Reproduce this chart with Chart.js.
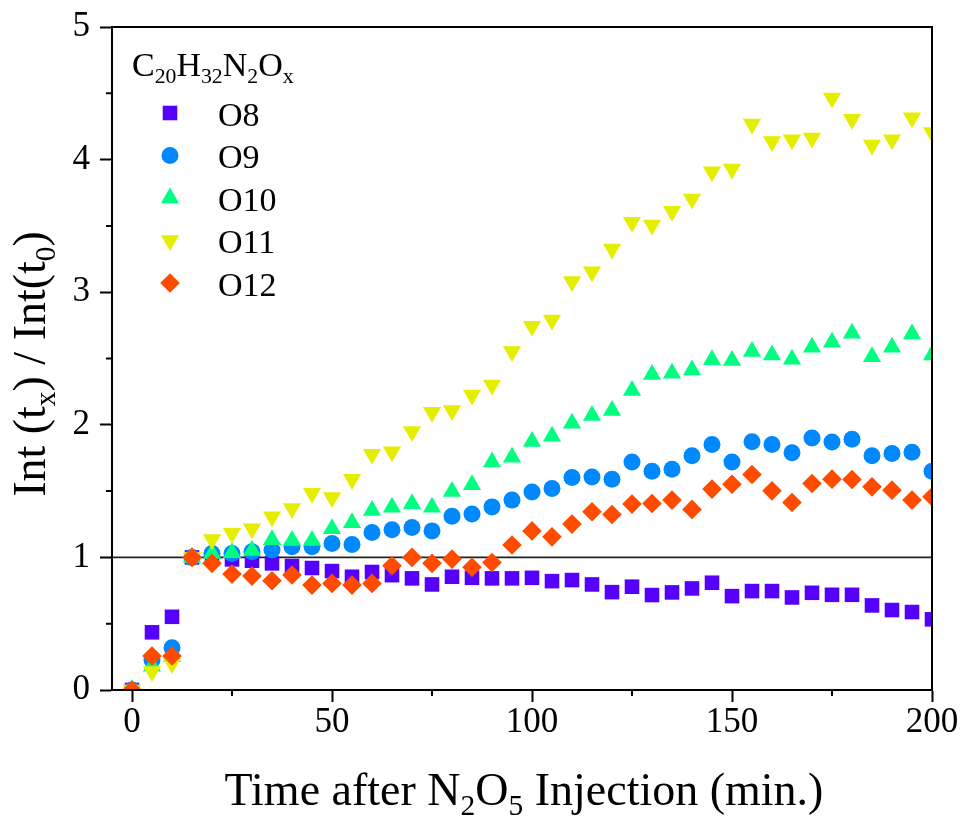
<!DOCTYPE html>
<html>
<head>
<meta charset="utf-8">
<script src="https://cdn.jsdelivr.net/npm/chart.js@4.4.1/dist/chart.umd.min.js"></script>
<style>
  html, body { margin: 0; padding: 0; background: #fff; }
  canvas { display: block; }
</style>
</head>
<body>
<canvas id="chart" width="964" height="825"></canvas>
<script>
// time after injection (min)
const times = [0, 5, 10, 15, 20, 25, 30, 35, 40, 45, 50, 55, 60, 65, 70, 75, 80, 85, 90, 95, 100,
  105, 110, 115, 120, 125, 130, 135, 140, 145, 150, 155, 160, 165, 170, 175, 180, 185, 190, 195, 200];

// Int(tx)/Int(t0) for C20H32N2Ox
const o8 = [0, 0.435, 0.552, 1.0, 0.99, 0.985, 0.975, 0.955, 0.935, 0.92, 0.897, 0.854, 0.89, 0.866,
  0.842, 0.796, 0.854, 0.846, 0.842, 0.842, 0.846, 0.821, 0.829, 0.796, 0.738, 0.779, 0.716, 0.736,
  0.766, 0.809, 0.708, 0.746, 0.746, 0.698, 0.733, 0.718, 0.718, 0.638, 0.603, 0.588, 0.533];
const o9 = [0, 0.226, 0.319, 1.0, 1.03, 1.03, 1.042, 1.055, 1.08, 1.08, 1.105, 1.098, 1.188, 1.208,
  1.226, 1.2, 1.311, 1.328, 1.381, 1.432, 1.494, 1.52, 1.603, 1.607, 1.59, 1.72, 1.65, 1.665,
  1.767, 1.852, 1.72, 1.873, 1.851, 1.79, 1.9, 1.87, 1.891, 1.767, 1.784, 1.793, 1.65];
const o10 = [0, 0.18, 0.25, 1.0, 1.03, 1.035, 1.052, 1.133, 1.128, 1.128, 1.216, 1.261, 1.354, 1.379,
  1.404, 1.379, 1.497, 1.547, 1.719, 1.756, 1.874, 1.914, 2.012, 2.07, 2.107, 2.258, 2.379, 2.389,
  2.414, 2.49, 2.484, 2.552, 2.527, 2.494, 2.585, 2.623, 2.69, 2.514, 2.585, 2.685, 2.527];
const o11 = [0, 0.14, 0.2, 1.0, 1.135, 1.183, 1.216, 1.306, 1.369, 1.484, 1.452, 1.59, 1.778, 1.796,
  1.949, 2.095, 2.107, 2.225, 2.301, 2.552, 2.743, 2.791, 3.08, 3.155, 3.326, 3.527, 3.507, 3.61,
  3.703, 3.909, 3.929, 4.268, 4.137, 4.15, 4.162, 4.464, 4.305, 4.11, 4.15, 4.315, 4.205];
const o12 = [0, 0.256, 0.256, 1.0, 0.955, 0.874, 0.859, 0.824, 0.867, 0.791, 0.804, 0.791, 0.804, 0.937,
  1.0, 0.955, 0.987, 0.925, 0.962, 1.093, 1.2, 1.155, 1.251, 1.344, 1.324, 1.402, 1.407, 1.432,
  1.362, 1.515, 1.552, 1.625, 1.502, 1.414, 1.557, 1.59, 1.588, 1.532, 1.507, 1.432, 1.457];

const seriesNames = ['O8', 'O9', 'O10', 'O11', 'O12'];
const xTicks = [0, 50, 100, 150, 200];
const xMinorTicks = [25, 75, 125, 175];
const yTicks = [0, 1, 2, 3, 4, 5];
const yMinorTicks = [0.5, 1.5, 2.5, 3.5, 4.5];
const refLevel = 1;

const FONT = '"Liberation Serif", "Times New Roman", serif';

const markers = [
  { color: '#5500ff', style: 'rect', radius: 10.3, rotation: 0 },
  { color: '#0088ff', style: 'circle', radius: 8.5, rotation: 0 },
  { color: '#00ff80', style: 'triangle', radius: 10.5, rotation: 0 },
  { color: '#e6ee00', style: 'triangle', radius: 10.5, rotation: 180 },
  { color: '#ff4b00', style: 'rectRot', radius: 9.8, rotation: 0 }
];

const allSeries = [o8, o9, o10, o11, o12];

const datasets = allSeries.map((vals, i) => ({
  label: seriesNames[i],
  data: vals.map((v, k) => ({ x: times[k], y: v })),
  showLine: false,
  pointStyle: markers[i].style,
  pointRotation: markers[i].rotation,
  pointRadius: markers[i].radius,
  pointBackgroundColor: markers[i].color,
  pointBorderWidth: 0,
  clip: 0,
  order: allSeries.length - i
}));

// text with subscripts: parts = [[text, isSub], ...]
function richWidth(ctx, parts, size) {
  let w = 0;
  parts.forEach(([t, sub]) => {
    ctx.font = (sub ? size * 0.64 : size) + 'px ' + FONT;
    w += ctx.measureText(t).width;
  });
  return w;
}
function drawRich(ctx, parts, x, y, size) {
  let cx = x;
  parts.forEach(([t, sub]) => {
    ctx.font = (sub ? size * 0.64 : size) + 'px ' + FONT;
    ctx.fillText(t, cx, sub ? y + size * 0.22 : y);
    cx += ctx.measureText(t).width;
  });
}

const xTitle = [['Time after N', 0], ['2', 1], ['O', 0], ['5', 1], [' Injection (min.)', 0]];
const yTitle = [['Int (t', 0], ['x', 1], [') / Int(t', 0], ['0', 1], [')', 0]];
const legendTitle = [['C', 0], ['20', 1], ['H', 0], ['32', 1], ['N', 0], ['2', 1], ['O', 0], ['x', 1]];

const frame = {
  id: 'frame',
  beforeDatasetsDraw(chart) {
    const { ctx, chartArea: a, scales: { y } } = chart;
    const py = y.getPixelForValue(refLevel);
    ctx.save();
    ctx.strokeStyle = '#222';
    ctx.lineWidth = 1.8;
    ctx.beginPath();
    ctx.moveTo(a.left, py);
    ctx.lineTo(a.right, py);
    ctx.stroke();
    ctx.restore();
  },
  afterDraw(chart) {
    const { ctx, chartArea: a, scales: { x, y } } = chart;
    ctx.save();
    ctx.strokeStyle = '#000';
    ctx.lineWidth = 2;
    ctx.strokeRect(a.left, a.top, a.right - a.left, a.bottom - a.top);

    // minor ticks
    ctx.beginPath();
    xMinorTicks.forEach(v => {
      const px = x.getPixelForValue(v);
      ctx.moveTo(px, a.bottom);
      ctx.lineTo(px, a.bottom + 6);
    });
    yMinorTicks.forEach(v => {
      const py = y.getPixelForValue(v);
      ctx.moveTo(a.left - 6, py);
      ctx.lineTo(a.left, py);
    });
    ctx.stroke();

    ctx.fillStyle = '#000';
    ctx.textBaseline = 'alphabetic';
    ctx.textAlign = 'left';

    // axis titles
    const xs = 46;
    const xw = richWidth(ctx, xTitle, xs);
    drawRich(ctx, xTitle, (a.left + a.right) / 2 + 2 - xw / 2, 805, xs);

    const ys = 46;
    const yw = richWidth(ctx, yTitle, ys);
    ctx.save();
    ctx.translate(45, 364);
    ctx.rotate(-Math.PI / 2);
    drawRich(ctx, yTitle, -yw / 2, 0, ys);
    ctx.restore();

    // legend
    drawRich(ctx, legendTitle, 132, 76, 34);
    chart.data.datasets.forEach((ds, i) => {
      const ly = 113 + i * 42.5;
      ctx.fillStyle = ds.pointBackgroundColor;
      Chart.helpers.drawPoint(ctx, {
        pointStyle: ds.pointStyle,
        rotation: ds.pointRotation,
        radius: ds.pointRadius,
        borderWidth: 0
      }, 170, ly);
      ctx.fillStyle = '#000';
      ctx.font = '34px ' + FONT;
      ctx.fillText(ds.label, 218, ly + 12.5);
    });
    ctx.restore();
  }
};

new Chart(document.getElementById('chart'), {
  type: 'scatter',
  data: { datasets },
  options: {
    responsive: false,
    animation: false,
    events: [],
    devicePixelRatio: 1,
    layout: { padding: { left: 0, right: 32, top: 27, bottom: 0 } },
    plugins: {
      legend: { display: false },
      tooltip: { enabled: false }
    },
    scales: {
      x: {
        type: 'linear',
        min: -5,
        max: 200,
        afterBuildTicks: s => { s.ticks = xTicks.map(v => ({ value: v })); },
        afterFit: s => { s.height = 135; },
        grid: { drawOnChartArea: false, drawTicks: true, tickLength: 12, tickColor: '#000', tickWidth: 2 },
        border: { display: true, color: '#000', width: 2 },
        ticks: { color: '#000', padding: 0, maxRotation: 0, font: { family: FONT, size: 35 } }
      },
      y: {
        type: 'linear',
        min: 0,
        max: 5,
        afterBuildTicks: s => { s.ticks = yTicks.map(v => ({ value: v })); },
        afterFit: s => { s.width = 112; s.paddingTop = 0; s.paddingBottom = 0; },
        grid: { drawOnChartArea: false, drawTicks: true, tickLength: 12, tickColor: '#000', tickWidth: 2 },
        border: { display: true, color: '#000', width: 2 },
        ticks: { color: '#000', padding: 10, font: { family: FONT, size: 35, lineHeight: 1 } }
      }
    }
  },
  plugins: [frame]
});
</script>
</body>
</html>
